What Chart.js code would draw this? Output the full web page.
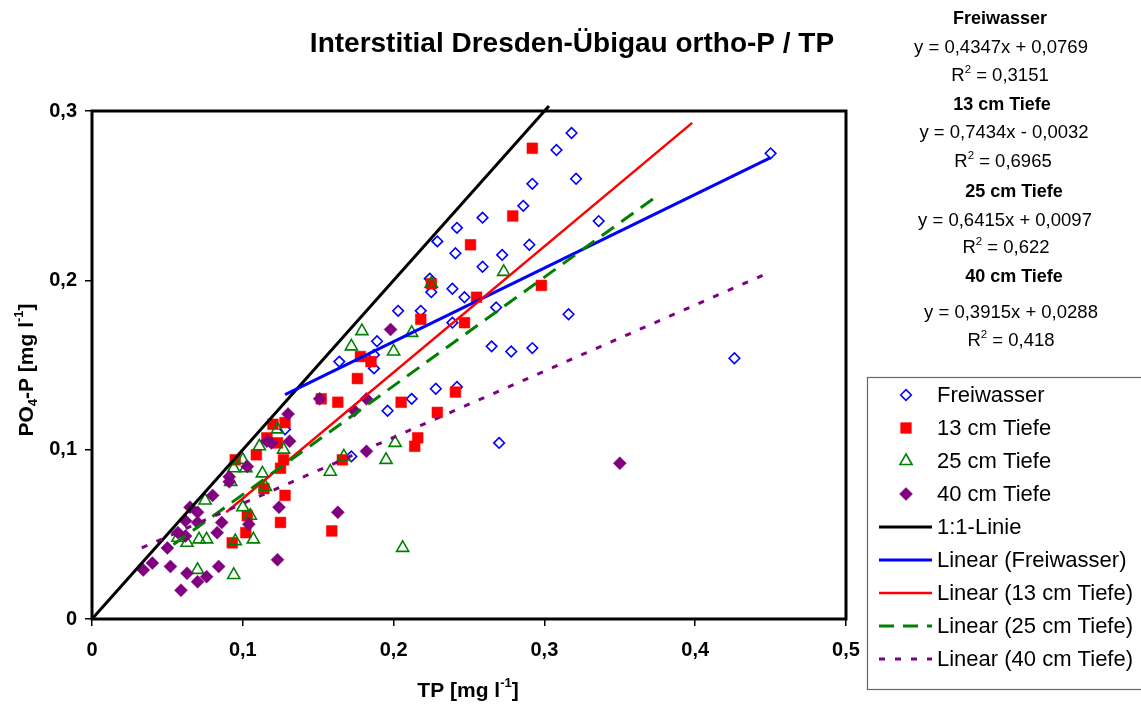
<!DOCTYPE html>
<html>
<head>
<meta charset="utf-8">
<script src="https://cdn.jsdelivr.net/npm/chart.js@4.4.0/dist/chart.umd.min.js"></script>
<style>
  html, body { margin: 0; padding: 0; background: #fff; }
</style>
</head>
<body>
<canvas id="chart" width="1141" height="704"></canvas>
<script>
// measured points [TP, PO4-P] in mg/l
const freiwasser = [
  [0.450,0.275],[0.318,0.287],[0.308,0.277],[0.321,0.260],[0.292,0.257],[0.286,0.244],
  [0.290,0.221],[0.272,0.215],[0.336,0.235],[0.259,0.237],[0.242,0.231],[0.229,0.223],
  [0.241,0.216],[0.259,0.208],[0.224,0.201],[0.225,0.193],[0.239,0.195],[0.247,0.190],
  [0.203,0.182],[0.218,0.182],[0.189,0.164],[0.187,0.156],[0.187,0.148],[0.164,0.152],
  [0.239,0.175],[0.268,0.184],[0.265,0.161],[0.278,0.158],[0.292,0.160],[0.228,0.136],
  [0.242,0.137],[0.212,0.130],[0.196,0.123],[0.270,0.104],[0.172,0.096],[0.128,0.112],
  [0.316,0.180],[0.426,0.154]
];
const tiefe13 = [
  [0.292,0.278],[0.279,0.238],[0.251,0.221],[0.225,0.198],[0.255,0.190],[0.298,0.197],
  [0.218,0.177],[0.247,0.175],[0.178,0.155],[0.185,0.152],[0.176,0.142],[0.152,0.130],
  [0.163,0.128],[0.205,0.128],[0.229,0.122],[0.241,0.134],[0.216,0.107],[0.214,0.102],
  [0.166,0.094],[0.159,0.052],[0.120,0.115],[0.128,0.116],[0.116,0.107],[0.123,0.104],
  [0.109,0.097],[0.095,0.094],[0.127,0.094],[0.125,0.089],[0.114,0.077],[0.128,0.073],
  [0.103,0.061],[0.125,0.057],[0.102,0.051],[0.093,0.045]
];
const tiefe25 = [
  [0.273,0.205],[0.225,0.198],[0.179,0.170],[0.172,0.161],[0.200,0.158],[0.212,0.169],
  [0.123,0.112],[0.111,0.102],[0.127,0.100],[0.100,0.094],[0.094,0.089],[0.102,0.089],
  [0.092,0.081],[0.113,0.086],[0.115,0.078],[0.158,0.087],[0.201,0.104],[0.195,0.094],
  [0.167,0.096],[0.075,0.070],[0.100,0.066],[0.105,0.061],[0.095,0.046],[0.107,0.047],
  [0.206,0.042],[0.057,0.048],[0.063,0.045],[0.071,0.047],[0.076,0.047],[0.070,0.029],
  [0.094,0.026]
];
const tiefe40 = [
  [0.198,0.171],[0.151,0.130],[0.182,0.130],[0.174,0.123],[0.182,0.099],[0.163,0.063],
  [0.130,0.121],[0.131,0.105],[0.116,0.105],[0.119,0.104],[0.103,0.090],[0.091,0.084],
  [0.091,0.081],[0.080,0.073],[0.065,0.066],[0.070,0.063],[0.062,0.058],[0.070,0.057],
  [0.086,0.057],[0.083,0.051],[0.057,0.051],[0.062,0.049],[0.050,0.042],[0.124,0.066],
  [0.104,0.056],[0.123,0.035],[0.040,0.033],[0.034,0.029],[0.052,0.031],[0.063,0.027],
  [0.076,0.025],[0.084,0.031],[0.070,0.022],[0.059,0.017],[0.350,0.092]
];

// line end points
const linie11 = [[0, 0], [0.303, 0.303]];
const trendFrei = [[0.128, 0.1325], [0.450, 0.2725]];
const trend13 = [[0.089, 0.063], [0.398, 0.293]];
const trend25 = [[0.054, 0.044], [0.375, 0.250]];
const trend40 = [[0.033, 0.042], [0.450, 0.205]];

const seriesNames = ['Freiwasser', '13 cm Tiefe', '25 cm Tiefe', '40 cm Tiefe'];
const lineNames = ['1:1-Linie', 'Linear (Freiwasser)', 'Linear (13 cm Tiefe)', 'Linear (25 cm Tiefe)', 'Linear (40 cm Tiefe)'];
const equations = ['y = 0,4347x + 0,0769', 'y = 0,7434x - 0,0032', 'y = 0,6415x + 0,0097', 'y = 0,3915x + 0,0288'];
const r2Values = ['0,3151', '0,6965', '0,622', '0,418'];

const FONT = '"Liberation Sans", Arial, sans-serif';
const toXY = arr => arr.map(p => ({ x: p[0], y: p[1] }));
const comma = v => Math.abs(v) < 1e-9 ? '0' : v.toFixed(1).replace('.', ',');

function pointSet(label, data, style, radius, color, filled, order) {
  return {
    label: label, data: toXY(data), showLine: false, order: order,
    pointStyle: style, pointRadius: radius, pointHoverRadius: radius,
    pointBorderColor: color, pointBorderWidth: filled ? 0.5 : 1.6,
    pointBackgroundColor: filled ? color : 'rgba(0,0,0,0)'
  };
}
function lineSet(label, data, color, width, dash, order, clip) {
  return {
    label: label, data: toXY(data), showLine: true, order: order,
    borderColor: color, borderWidth: width, borderDash: dash,
    pointRadius: 0, pointHoverRadius: 0, clip: clip
  };
}

const datasets = [
  pointSet(seriesNames[0], freiwasser, 'rectRot', 5.3, '#0000FF', false, 9),
  pointSet(seriesNames[1], tiefe13, 'rect', 7.6, '#FF0000', true, 8),
  pointSet(seriesNames[2], tiefe25, 'triangle', 7, '#008000', false, 7),
  pointSet(seriesNames[3], tiefe40, 'rectRot', 6.5, '#800080', true, 6),
  lineSet(lineNames[0], linie11, '#000000', 3, [], 5, false),
  lineSet(lineNames[1], trendFrei, '#0000FF', 3, [], 4, undefined),
  lineSet(lineNames[2], trend13, '#FF0000', 2.5, [], 3, undefined),
  lineSet(lineNames[3], trend25, '#008000', 3, [15, 9], 2, undefined),
  lineSet(lineNames[4], trend40, '#800080', 3, [6, 10], 1, undefined)
];

function drawRich(ctx, parts, x, y, size, bold, align) {
  const w = bold ? 'bold ' : '';
  const fontFor = p => w + (p[1] ? size * 0.62 : size) + 'px ' + FONT;
  let total = 0;
  parts.forEach(p => { ctx.font = fontFor(p); total += ctx.measureText(p[0]).width; });
  let cx = align === 'center' ? x - total / 2 : x;
  ctx.textAlign = 'left';
  ctx.textBaseline = 'middle';
  parts.forEach(p => {
    ctx.font = fontFor(p);
    const dy = p[1] === 'sub' ? size * 0.3 : (p[1] === 'sup' ? -size * 0.35 : 0);
    ctx.fillText(p[0], cx, y + dy);
    cx += ctx.measureText(p[0]).width;
  });
}

function marker(ctx, ds, x, y) {
  const r = ds.pointRadius;
  ctx.beginPath();
  if (ds.pointStyle === 'rectRot') {
    ctx.moveTo(x - r, y); ctx.lineTo(x, y - r); ctx.lineTo(x + r, y); ctx.lineTo(x, y + r);
  } else if (ds.pointStyle === 'rect') {
    const s = r * Math.SQRT1_2;
    ctx.rect(x - s, y - s, 2 * s, 2 * s);
  } else {
    const h = r * Math.sqrt(3) / 2;
    ctx.moveTo(x, y - r); ctx.lineTo(x + h, y + r / 2); ctx.lineTo(x - h, y + r / 2);
  }
  ctx.closePath();
  ctx.fillStyle = ds.pointBackgroundColor;
  ctx.fill();
  ctx.lineWidth = ds.pointBorderWidth;
  ctx.strokeStyle = ds.pointBorderColor;
  ctx.stroke();
}

const decor = {
  id: 'decor',
  beforeDatasetsDraw(chart) {
    const { ctx, chartArea: a } = chart;
    ctx.save();
    ctx.strokeStyle = '#000';
    ctx.lineWidth = 3;
    ctx.strokeRect(a.left, a.top, a.right - a.left, a.bottom - a.top);
    ctx.restore();
  },
  afterDraw(chart) {
    const ctx = chart.ctx;
    ctx.save();
    ctx.fillStyle = '#000';

    // title
    drawRich(ctx, [['Interstitial Dresden-\u00dcbigau ortho-P / TP', '']], 572, 44, 28, true, 'center');

    // axis titles
    drawRich(ctx, [['TP [mg l', ''], ['-1', 'sup'], [']', '']], 468, 691, 21, true, 'center');
    ctx.save();
    ctx.translate(27, 370);
    ctx.rotate(-Math.PI / 2);
    drawRich(ctx, [['PO', ''], ['4', 'sub'], ['-P [mg l', ''], ['-1', 'sup'], [']', '']], 0, 0, 21, true, 'center');
    ctx.restore();

    // regression equations
    const headX = [1000, 1002, 1014, 1014];
    const eqX = [1001, 1004, 1005, 1011];
    const r2X = [1000, 1003, 1006, 1011];
    const headY = [19, 105, 192, 277];
    const eqY = [48, 133, 221, 313];
    const r2Y = [76, 162, 248, 341];
    for (let i = 0; i < 4; i++) {
      drawRich(ctx, [[seriesNames[i], '']], headX[i], headY[i], 18, true, 'center');
      drawRich(ctx, [[equations[i], '']], eqX[i], eqY[i], 18.5, false, 'center');
      drawRich(ctx, [['R', ''], ['2', 'sup'], [' = ' + r2Values[i], '']], r2X[i], r2Y[i], 18.5, false, 'center');
    }

    // legend
    ctx.strokeStyle = '#666';
    ctx.lineWidth = 1.2;
    ctx.strokeRect(867.5, 377.5, 290, 312);
    chart.data.datasets.forEach((ds, i) => {
      const y = 395 + i * 33;
      if (ds.showLine) {
        ctx.save();
        ctx.strokeStyle = ds.borderColor;
        ctx.lineWidth = ds.borderWidth;
        ctx.setLineDash(ds.borderDash);
        ctx.beginPath();
        ctx.moveTo(879, y);
        ctx.lineTo(932, y);
        ctx.stroke();
        ctx.restore();
      } else {
        marker(ctx, ds, 906, y);
      }
      ctx.fillStyle = '#000';
      drawRich(ctx, [[ds.label, '']], 937, y + 1, 22, false, 'left');
    });
    ctx.restore();
  }
};

const tickFont = { family: FONT, size: 20, weight: 'bold' };

new Chart(document.getElementById('chart'), {
  type: 'scatter',
  data: { datasets: datasets },
  options: {
    responsive: false,
    animation: false,
    layout: { padding: { left: 42, right: 295, top: 111, bottom: 40 } },
    plugins: { legend: { display: false }, tooltip: { enabled: false }, title: { display: false } },
    scales: {
      x: {
        type: 'linear', min: 0, max: 0.5,
        afterFit: s => { s.height = 45; },
        border: { display: false },
        grid: { drawOnChartArea: false, drawTicks: true, tickLength: 7, color: '#000', lineWidth: 1.5 },
        ticks: { stepSize: 0.1, color: '#000', font: tickFont, padding: 12, maxRotation: 0, callback: v => comma(v) }
      },
      y: {
        type: 'linear', min: 0, max: 0.3,
        afterFit: s => { s.width = 50; },
        border: { display: false },
        grid: { drawOnChartArea: false, drawTicks: true, tickLength: 7, color: '#000', lineWidth: 1.5 },
        ticks: { stepSize: 0.1, color: '#000', font: tickFont, padding: 8, callback: v => comma(v) }
      }
    }
  },
  plugins: [decor]
});
</script>
</body>
</html>
